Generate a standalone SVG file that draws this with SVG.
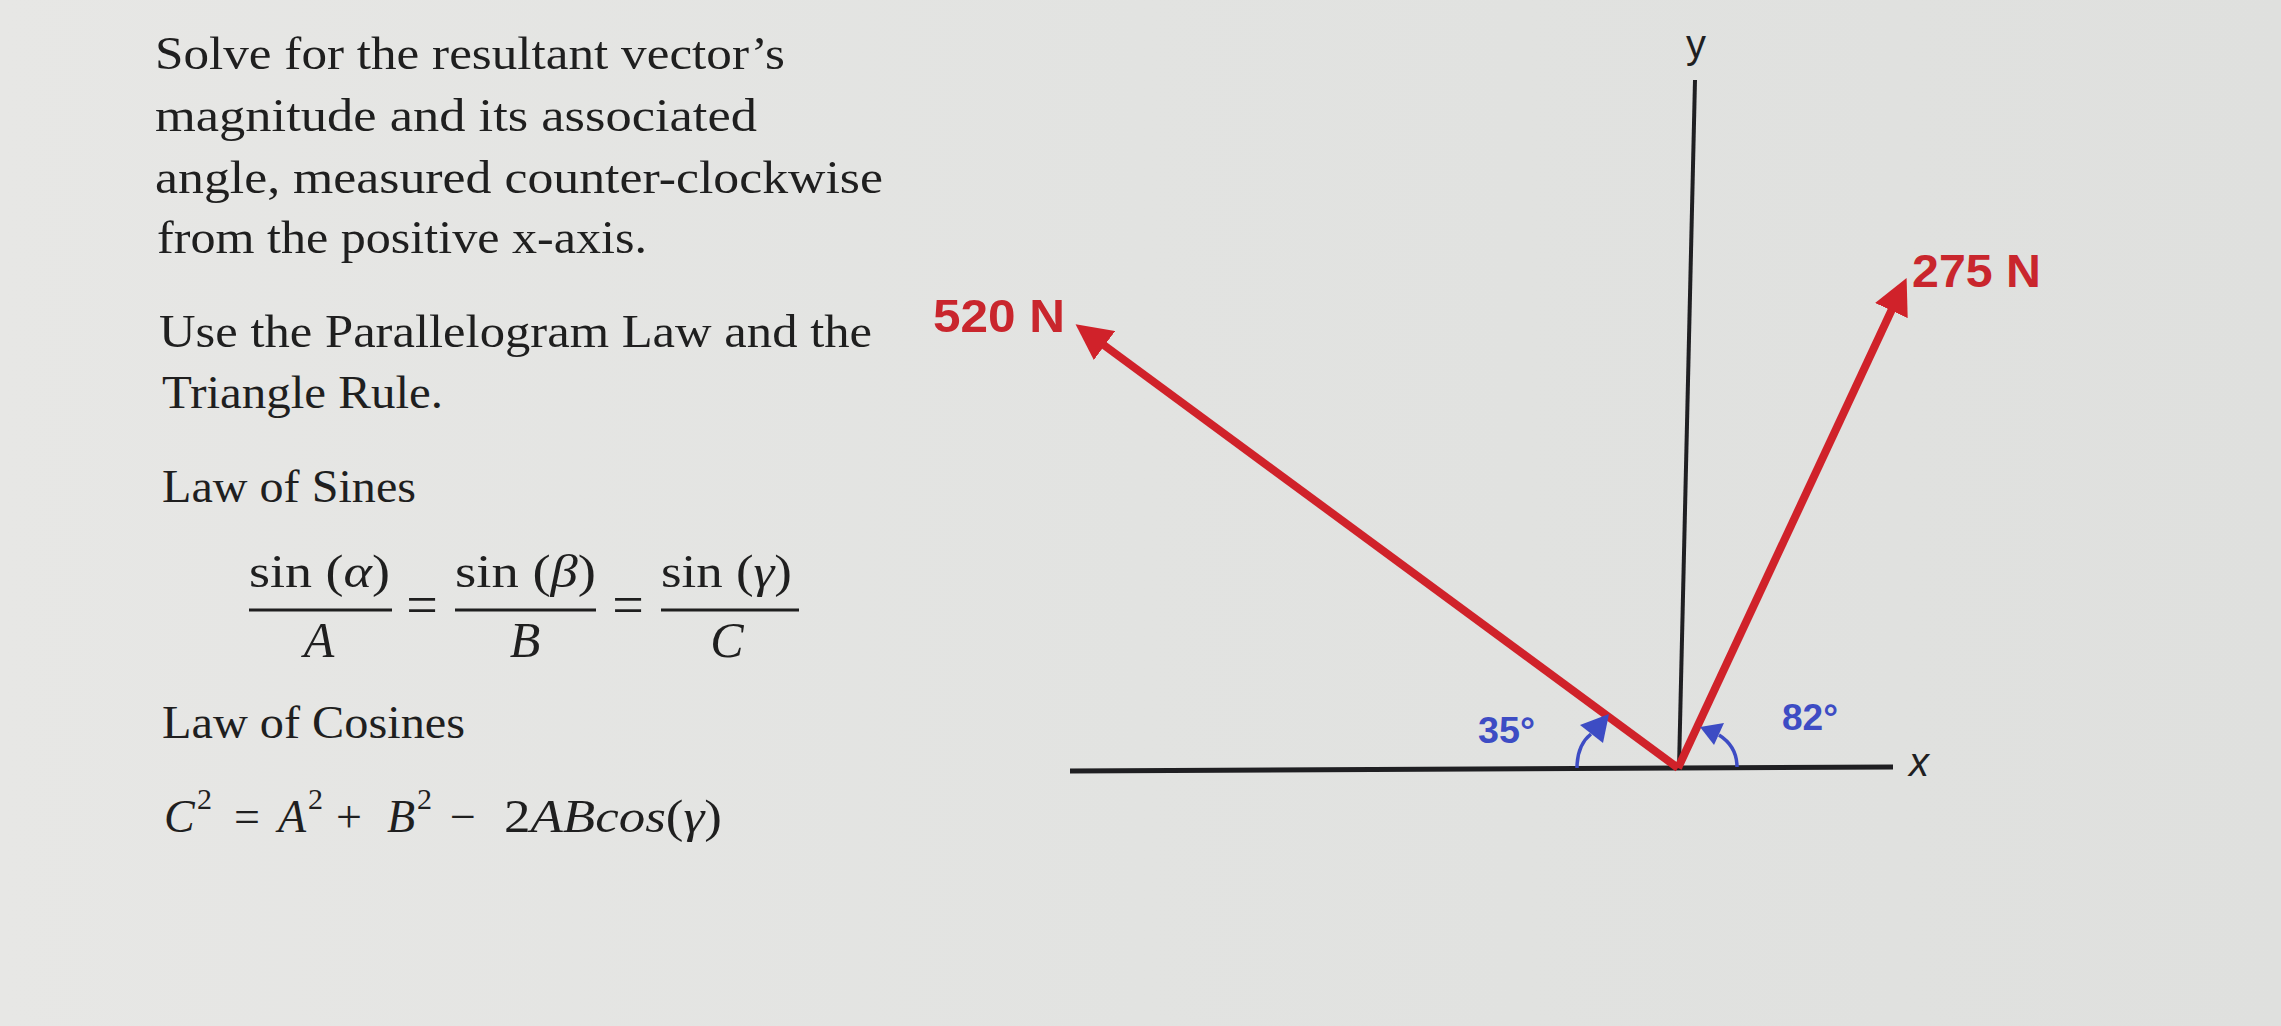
<svg xmlns="http://www.w3.org/2000/svg" width="2281" height="1026" viewBox="0 0 2281 1026">
  <style>
    .body { font-family: "Liberation Serif", "Times New Roman", serif; font-size: 46px; fill: #1f1f1f; }
    .math { font-family: "Liberation Serif", "Times New Roman", serif; font-size: 46px; fill: #1f1f1f; }
    .eq { font-family: "Liberation Serif", "Times New Roman", serif; font-size: 56px; fill: #1f1f1f; }
    .it { font-style: italic; }
    .den { font-size: 50px; }
    .sup { font-size: 30px; }
    .force { font-family: "Liberation Sans", Arial, sans-serif; font-weight: bold; font-size: 47px; fill: #c9262d; }
    .angle { font-family: "Liberation Sans", Arial, sans-serif; font-weight: bold; font-size: 36px; fill: #3d4cc4; }
    .axislbl { font-family: "Liberation Sans", Arial, sans-serif; font-size: 40px; fill: #1f1f22; }
    .axis { stroke: #1f1f22; fill: none; }
    .vec { stroke: #d0222a; stroke-width: 8; fill: none; marker-end: url(#redhead); }
    .arc { stroke: #3d4cc4; stroke-width: 3.5; fill: none; }
    .archead { fill: #3d4cc4; }
    .bar { stroke: #1f1f1f; stroke-width: 3; }
  </style>
  <defs>
    <linearGradient id="bg" x1="0" y1="0" x2="1" y2="0">
      <stop offset="0" stop-color="#e7e7e5"/>
      <stop offset="0.5" stop-color="#e2e3e1"/>
      <stop offset="1" stop-color="#dfe0de"/>
    </linearGradient>
    <marker id="redhead" markerUnits="userSpaceOnUse" markerWidth="36" markerHeight="36" viewBox="0 0 36 36" refX="5" refY="18" orient="auto">
      <path d="M0,0 L36,18 L0,36 z" fill="#d0222a"/>
    </marker>
  </defs>
  <rect x="0" y="0" width="2281" height="1026" fill="url(#bg)"/>

  <g id="problem-text">
    <text class="body" x="155" y="69" textLength="630" lengthAdjust="spacingAndGlyphs">Solve for the resultant vector’s</text>
    <text class="body" x="155" y="131" textLength="602" lengthAdjust="spacingAndGlyphs">magnitude and its associated</text>
    <text class="body" x="155" y="193" textLength="728" lengthAdjust="spacingAndGlyphs">angle, measured counter-clockwise</text>
    <text class="body" x="157" y="253" textLength="490" lengthAdjust="spacingAndGlyphs">from the positive x-axis.</text>
    <text class="body" x="159" y="347" textLength="713" lengthAdjust="spacingAndGlyphs">Use the Parallelogram Law and the</text>
    <text class="body" x="162" y="408" textLength="281" lengthAdjust="spacingAndGlyphs">Triangle Rule.</text>
  </g>

  <g id="law-of-sines">
    <text class="body" x="162" y="502" textLength="254" lengthAdjust="spacingAndGlyphs">Law of Sines</text>
    <text class="math" x="249" y="587" textLength="141" lengthAdjust="spacingAndGlyphs">sin (<tspan class="it">α</tspan>)</text>
    <line class="bar" x1="249" y1="610" x2="392" y2="610"/>
    <text class="math it den" x="319" y="657" text-anchor="middle">A</text>
    <text class="eq" x="422" y="624" text-anchor="middle">=</text>
    <text class="math" x="455" y="587" textLength="141" lengthAdjust="spacingAndGlyphs">sin (<tspan class="it">β</tspan>)</text>
    <line class="bar" x1="455" y1="610" x2="596" y2="610"/>
    <text class="math it den" x="525" y="657" text-anchor="middle">B</text>
    <text class="eq" x="628" y="624" text-anchor="middle">=</text>
    <text class="math" x="661" y="587" textLength="131" lengthAdjust="spacingAndGlyphs">sin (<tspan class="it">γ</tspan>)</text>
    <line class="bar" x1="661" y1="610" x2="799" y2="610"/>
    <text class="math it den" x="727" y="657" text-anchor="middle">C</text>
  </g>

  <g id="law-of-cosines">
    <text class="body" x="162" y="738" textLength="303" lengthAdjust="spacingAndGlyphs">Law of Cosines</text>
    <text class="math" y="832">
      <tspan class="it" x="164">C</tspan><tspan class="sup" x="197" y="809">2</tspan>
      <tspan x="234" y="832">=</tspan>
      <tspan class="it" x="278">A</tspan><tspan class="sup" x="308" y="809">2</tspan>
      <tspan x="336" y="832">+</tspan>
      <tspan class="it" x="387">B</tspan><tspan class="sup" x="417" y="809">2</tspan>
      <tspan x="450" y="832">−</tspan>
    </text>
    <text class="math" x="504" y="832" textLength="218" lengthAdjust="spacingAndGlyphs">2<tspan class="it">ABcos</tspan>(<tspan class="it">γ</tspan>)</text>
  </g>

  <g id="axes">
    <line class="axis" x1="1070" y1="771" x2="1893" y2="767" stroke-width="5"/>
    <line class="axis" x1="1695" y1="80" x2="1679" y2="768" stroke-width="4"/>
    <text class="axislbl" x="1696" y="58" text-anchor="middle">y</text>
    <text class="axislbl" x="1919" y="776" text-anchor="middle" font-style="italic">x</text>
  </g>

  <g id="connectors">
    <line id="vec-520" class="vec" x1="1678" y1="768" x2="1100.5" y2="342.6"/>
    <line id="vec-275" class="vec" x1="1678" y1="768" x2="1893.5" y2="306"/>
    <path class="arc" d="M1577,768 C1577,755 1581,742 1591,734"/>
    <polygon class="archead" points="1580,725 1609,714 1603,743"/>
    <path class="arc" d="M1737,767 C1737,752 1730,742 1719,735"/>
    <polygon class="archead" points="1700,727 1724,723 1714,745"/>
  </g>

  <g id="label-520">
    <text class="force" x="933" y="332" textLength="132" lengthAdjust="spacingAndGlyphs">520 N</text>
  </g>
  <g id="label-275">
    <text class="force" x="1912" y="287" textLength="129" lengthAdjust="spacingAndGlyphs">275 N</text>
  </g>
  <g id="label-35">
    <text class="angle" x="1478" y="743" textLength="57" lengthAdjust="spacingAndGlyphs">35°</text>
  </g>
  <g id="label-82">
    <text class="angle" x="1782" y="730" textLength="56" lengthAdjust="spacingAndGlyphs">82°</text>
  </g>
</svg>
